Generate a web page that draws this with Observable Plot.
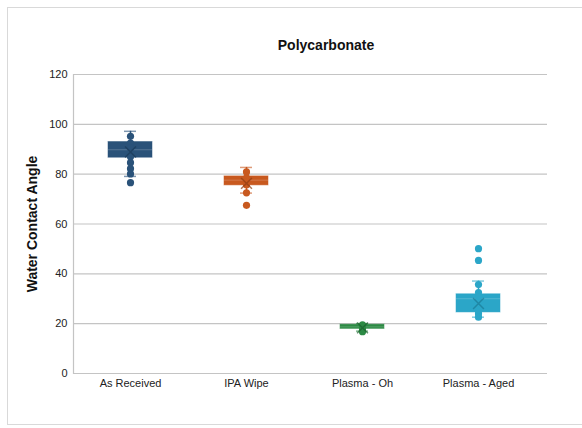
<!DOCTYPE html>
<html>
<head>
<meta charset="utf-8">
<script src="https://cdn.jsdelivr.net/npm/d3@7"></script>
<script src="https://cdn.jsdelivr.net/npm/@observablehq/plot@0.6"></script>
<style>
  body { margin: 0; background: #fff; font-family: "Liberation Sans", Arial, sans-serif; }
  #wrap { position: relative; width: 582px; height: 428px; overflow: hidden; }
  #frame { position: absolute; left: 7px; top: 7px; width: 620px; height: 418px; border: 1px solid #d9d9d9; box-sizing: border-box; }
  #title { position: absolute; top: 37px; left: 326px; transform: translateX(-50%); font-weight: bold; font-size: 14px; color: #111; white-space: nowrap; }
  #chart { position: absolute; left: 0; top: 0; }
</style>
</head>
<body>
<div id="wrap">
  <div id="frame"></div>
  <div id="chart"></div>
  <div id="title">Polycarbonate</div>
</div>
<script>
const categories = ["As Received", "IPA Wipe", "Plasma - Oh", "Plasma - Aged"];
const colors = ["#2a5279", "#c8591f", "#2c8a44", "#2ba6c8"];
const markerColors = ["#1b3a58", "#8f3d12", "#1c5f2e", "#1b7a95"];
const q1 = [86.6, 75.5, 17.9, 24.5];
const median = [89.8, 77.6, 18.7, 30.0];
const q3 = [92.9, 79.1, 19.6, 31.8];
const whiskerLow = [79.1, 72.4, 17.0, 22.6];
const whiskerHigh = [97.2, 82.7, 20.0, 37.1];
const means = [88.9, 76.3, 18.3, 28.1];
const pointsAsReceived = [95.2, 92.5, 90.5, 88.5, 87.0, 84.6, 82.2, 80.1, 76.6];
const pointsIPA = [80.9, 78.5, 77.0, 75.8, 72.5, 67.5];
const pointsPlasmaOh = [19.5, 18.8, 18.0, 17.3, 16.8];
const pointsPlasmaAged = [50.1, 45.4, 35.7, 32.5, 30.6, 28.5, 25.3, 24.0, 22.6];
const yTicks = [0, 20, 40, 60, 80, 100, 120];

const pointSets = [pointsAsReceived, pointsIPA, pointsPlasmaOh, pointsPlasmaAged];
const boxes = categories.map((c, i) => ({
  cat: c, q1: q1[i], median: median[i], q3: q3[i],
  lo: whiskerLow[i], hi: whiskerHigh[i], mean: means[i], mc: markerColors[i]
}));
const points = categories.flatMap((c, i) => pointSets[i].map(v => ({cat: c, v})));

const chart = Plot.plot({
  width: 582,
  height: 428,
  marginLeft: 73,
  marginRight: 35,
  marginTop: 74,
  marginBottom: 55,
  style: {fontFamily: "Liberation Sans, Arial, sans-serif", fontSize: "11px", color: "#222", background: "transparent"},
  x: {domain: categories, range: [70, 537], padding: 0, label: null},
  y: {domain: [0, 120], label: null},
  color: {domain: categories, range: colors},
  marks: [
    Plot.ruleY(yTicks, {stroke: "#c4c4c4", strokeWidth: 1.2}),
    Plot.frame({anchor: "left", stroke: "#c4c4c4", strokeWidth: 1.2}),
    Plot.axisY({ticks: yTicks, tickSize: 0, tickPadding: 6, fontSize: 11, label: "Water Contact Angle", labelAnchor: "center", labelArrow: "none", labelOffset: 46}),
    Plot.axisX({tickSize: 0, tickPadding: 6, fontSize: 11, label: null}),
    Plot.ruleX(boxes, {x: "cat", y1: "lo", y2: "hi", stroke: d => d.cat, strokeWidth: 1.5}),
    Plot.tickY(boxes, {x: "cat", y: "hi", stroke: d => d.cat, strokeOpacity: 0.6, strokeWidth: 1.5, insetLeft: 52, insetRight: 52}),
    Plot.tickY(boxes, {x: "cat", y: "lo", stroke: d => d.cat, strokeOpacity: 0.6, strokeWidth: 1.5, insetLeft: 52, insetRight: 52}),
    Plot.rectY(boxes, {x: "cat", y1: "q1", y2: "q3", fill: d => d.cat, stroke: d => d.cat, strokeOpacity: 0.5, insetLeft: 36, insetRight: 36}),
    Plot.tickY(boxes, {x: "cat", y: "median", stroke: "#ffffff", strokeOpacity: 0.2, strokeWidth: 1, insetLeft: 36, insetRight: 36}),
    Plot.dot(points, {x: "cat", y: "v", fill: d => d.cat, r: 3.6}),
    Plot.dot(boxes, {x: "cat", y: "mean", symbol: "times", stroke: "mc", strokeOpacity: 0.7, strokeWidth: 1.5, r: 5})
  ]
});
chart.querySelectorAll("g[aria-label='y-axis label'] text, g[aria-label='y-axis label']").forEach(el => {
  el.setAttribute("font-weight", "bold");
  el.setAttribute("font-size", "14");
  el.setAttribute("fill", "#111");
});
document.getElementById("chart").appendChild(chart);
</script>
</body>
</html>
